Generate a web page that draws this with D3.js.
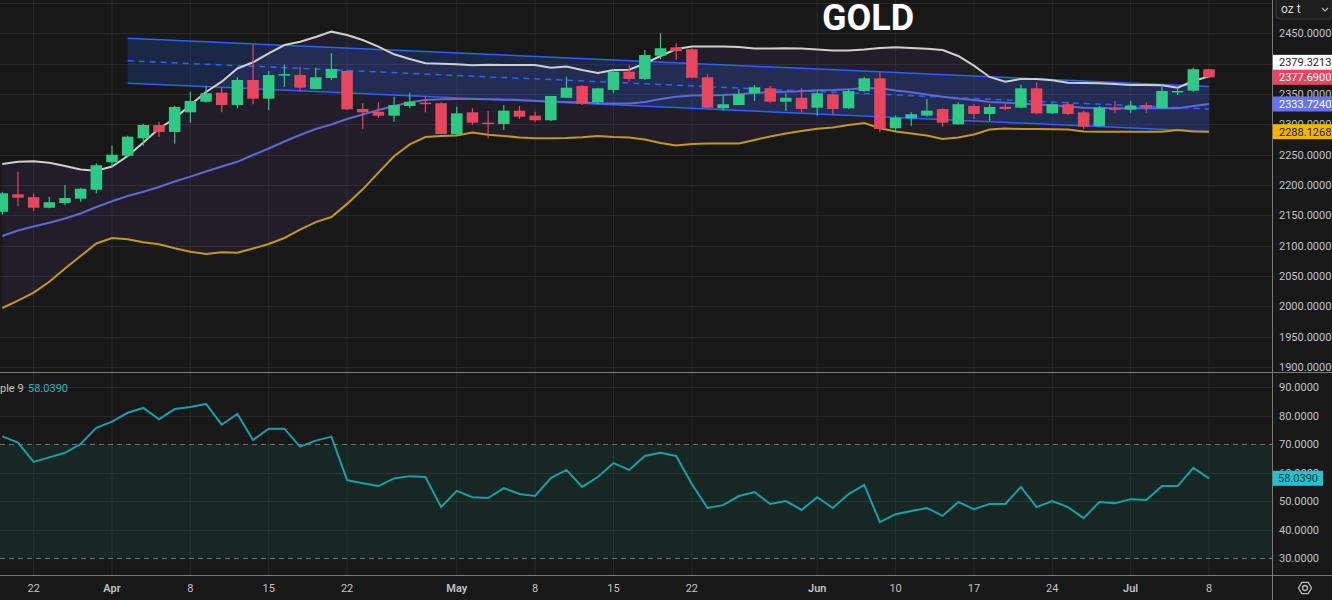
<!DOCTYPE html>
<html><head><meta charset="utf-8">
<script src="https://cdn.jsdelivr.net/npm/d3@7"></script>
<style>
html,body{margin:0;padding:0;background:#181818;overflow:hidden}
svg{display:block}
text{font-family:Roboto,"Liberation Sans",sans-serif}
</style></head><body>
<svg id="c" width="1332" height="600"></svg>
<script>
// ---------- DATA ----------
const dates = [
 "2024-03-20","2024-03-21","2024-03-22","2024-03-25","2024-03-26","2024-03-27","2024-03-28",
 "2024-04-01","2024-04-02","2024-04-03","2024-04-04","2024-04-05","2024-04-08","2024-04-09","2024-04-10","2024-04-11","2024-04-12",
 "2024-04-15","2024-04-16","2024-04-17","2024-04-18","2024-04-19","2024-04-22","2024-04-23","2024-04-24","2024-04-25","2024-04-26",
 "2024-04-29","2024-04-30","2024-05-01","2024-05-02","2024-05-03","2024-05-06","2024-05-07","2024-05-08","2024-05-09","2024-05-10",
 "2024-05-13","2024-05-14","2024-05-15","2024-05-16","2024-05-17","2024-05-20","2024-05-21","2024-05-22","2024-05-23","2024-05-24",
 "2024-05-27","2024-05-28","2024-05-29","2024-05-30","2024-05-31","2024-06-03","2024-06-04","2024-06-05","2024-06-06","2024-06-07",
 "2024-06-10","2024-06-11","2024-06-12","2024-06-13","2024-06-14","2024-06-17","2024-06-18","2024-06-19","2024-06-20","2024-06-21",
 "2024-06-24","2024-06-25","2024-06-26","2024-06-27","2024-06-28","2024-07-01","2024-07-02","2024-07-03","2024-07-04","2024-07-05",
 "2024-07-08"];
const open = [
 2156,2184.8,2180,2162.7,2170.5,2177.6,2192.4,
 2237.6,2248.5,2277.2,2299,2287.6,2320,2337.5,2352.4,2332,2373.3,
 2342.5,2380.5,2381.6,2358.5,2376.6,2388.2,2325.5,2321,2314.5,2330.4,
 2336,2335,2283.8,2320,2303,2300.8,2322.7,2314.5,2306.9,2344,
 2363.4,2336.5,2356.8,2387,2375,2413.4,2427,2424,2377.8,2326.7,
 2332,2351.4,2359.6,2337.5,2344,2327.6,2349.7,2326.7,2355.2,2376,
 2293.7,2310.2,2314.5,2325.5,2300.3,2330.4,2317.3,2329.3,2327.6,2359.6,
 2318.4,2333.3,2320,2297.5,2326.7,2324.4,2332,2326.7,2353.6,2355.7,
 2391];
const high = [
 2189,2222,2186.5,2180.4,2200,2195.7,2236,
 2265,2281.5,2301.3,2304.6,2331,2354,2364,2360.6,2377.8,2432.2,
 2388,2399,2395,2393.6,2417.8,2390,2335,2336.5,2345.8,2352.4,
 2347,2336.5,2329.3,2326.7,2322,2332,2330.4,2321,2347,2378.8,
 2365,2360.6,2391,2398,2422.8,2450.3,2433.8,2425.6,2383,2347.4,
 2358.5,2365,2363.4,2351.4,2359.6,2356.8,2351.4,2358.5,2378.8,2388,
 2314.5,2320,2342,2326.7,2336.5,2333.7,2333.7,2333.7,2366,2369.5,
 2335,2337.5,2322.7,2330.4,2338.7,2338.7,2336.5,2365,2360.6,2393.6,
 2391.5];
const low = [
 2151,2165.5,2157.3,2162,2167,2172.6,2186.5,
 2230,2246.8,2265,2279.8,2268.3,2303,2335.9,2320,2326.7,2333.3,
 2323.8,2362,2354,2358,2373.3,2324,2292,2311,2304.6,2326.7,
 2320,2284,2282.6,2299,2277.2,2291,2309,2303.6,2305.7,2343.7,
 2332,2333.3,2351.4,2370.5,2373.3,2407.5,2406.3,2376,2326.7,2322.7,
 2332,2338.7,2335,2322.7,2320,2314.5,2315.6,2325.5,2354,2287,
 2288,2298,2312.8,2296.3,2299,2309,2305.7,2324,2326.7,2316.8,
 2317.3,2315.6,2292.5,2296.3,2318.4,2318.4,2318.4,2326.7,2348.6,2354,
 2376.6];
const close = [
 2186.5,2179.2,2162.7,2171.7,2178.7,2194,2232.7,
 2250.1,2279.8,2299.1,2287.6,2328.8,2338.7,2351.4,2332.1,2373.3,2342.5,
 2381.6,2383,2360.6,2377.8,2391.5,2325,2320,2314.5,2332,2337.5,
 2333.5,2284.3,2318.4,2302.9,2300.8,2322.7,2312.8,2306.9,2347,2360.6,
 2334.2,2359.6,2387,2375,2414.5,2425.6,2421,2377,2327.6,2333.3,
 2350,2361.3,2337.5,2344,2325.5,2351.4,2325.5,2355,2376.1,2292.5,
 2311,2316.8,2322.7,2302.9,2333.3,2317.3,2328.8,2325.5,2359.6,2318.4,
 2333.3,2317.3,2296.3,2327.6,2324,2331,2327.6,2355.2,2355.2,2391,
 2377.69];
// Bollinger Bands
const bbUpper = [
 2234.8,2238.6,2239.3,2236.9,2231.5,2225.7,2223.8,
 2230.7,2248,2270.3,2293.3,2309.8,2332.1,2353.5,2370.5,2392.3,2402.5,
 2417,2431,2436.5,2444.2,2453,2447.5,2439.3,2428.2,2415.7,2408,
 2400.9,2400.2,2399.2,2397.6,2398.6,2398.1,2398.1,2398.1,2393.6,2395.6,
 2389.8,2384.9,2389.8,2390.3,2400.5,2412.9,2424.4,2428.6,2428.6,2428.6,
 2427.7,2425.3,2425.3,2425.6,2425.3,2423.6,2422,2422,2423.6,2426.1,
 2427.4,2426.1,2424.9,2422.8,2412.9,2396.9,2378.3,2370.5,2375,2375,
 2372.8,2368.9,2368.4,2367.9,2366.7,2365.1,2365.1,2364.6,2360.6,2371.7,
 2379.3213];
const bbBasis = [
 2116.1,2125.1,2131.7,2138,2144.9,2153.2,2163.9,
 2173.3,2182,2189.1,2196.9,2205.9,2213.9,2222.4,2230.7,2238.4,2249.6,
 2260.4,2271.9,2282.6,2292.5,2299.9,2309,2316.4,2323.9,2330.4,2336.5,
 2340.3,2341.5,2342,2342,2341.7,2341.2,2340.3,2339.2,2337.9,2337,
 2336.2,2334.9,2334.6,2334.6,2337,2342,2345.6,2347.8,2348.1,2348.6,
 2349.7,2351.9,2353.2,2353.9,2354.7,2356.3,2356.8,2358,2359.8,2359.6,
 2356,2353,2349.4,2345.6,2342.8,2340.3,2337,2335.7,2334.6,2332.9,
 2331.6,2329.6,2327.5,2327.2,2326.7,2326.7,2326.7,2326.7,2326.7,2330.4,
 2333.724];
const bbLower = [
 1997.3,2009.4,2022.6,2040.7,2062.5,2083.1,2103.7,
 2112.8,2110.6,2105.7,2102.6,2095.8,2090.2,2086.4,2089.4,2088.6,2095.5,
 2102.9,2112.8,2126.5,2139,2147.4,2169,2193,2220.5,2247.5,2267,
 2279.3,2281,2281.8,2286.7,2283,2281,2278.5,2277.2,2277.2,2277.7,
 2278.8,2281,2279.3,2278.5,2275.2,2269.4,2265.3,2267.8,2268.6,2268.6,
 2268.6,2274.4,2280.2,2285.1,2289.2,2292.9,2295,2299.1,2302.4,2293.7,
 2288.4,2285.1,2281.8,2276,2278.5,2283.5,2291.7,2293.3,2292.5,2292.5,
 2292.2,2291.7,2288.4,2288.1,2288.1,2288.1,2288.1,2288.1,2290.9,2288.4,
 2288.1268];
// RSI
const rsi = [
 72.8,70.6,63.8,65.4,67.0,70.1,75.8,
 78.0,81.1,82.8,78.8,82.4,83.1,84.2,76.9,80.7,71.5,
 75.5,75.5,69.2,71.3,72.7,57.4,56.3,55.3,58.0,58.8,
 58.5,47.9,53.6,51.4,51.1,54.6,52.5,51.8,58.1,61.0,
 55.0,58.5,63.4,61.0,65.9,67.0,65.9,56.0,47.6,48.6,
 51.8,53.2,49.0,50.0,46.9,51.4,47.6,52.5,55.7,42.6,
 45.4,46.5,47.6,44.8,49.7,47.2,49.0,49.0,55.0,47.9,
 50.0,47.9,44.0,49.7,49.3,50.7,50.4,55.3,55.3,61.7,
 58.039];
// Linear regression channel
const regDates = ["2024-04-02","2024-07-08"];
const regMid = [2405.1, 2325.5];
const regDev = 37;
// Axis ticks
const timeTicks = ["2024-03-22","2024-04-01","2024-04-08","2024-04-15","2024-04-22","2024-05-01","2024-05-08","2024-05-15","2024-05-22","2024-06-03","2024-06-10","2024-06-17","2024-06-24","2024-07-01","2024-07-08"];
const timeLabels = ["22","Apr","8","15","22","May","8","15","22","Jun","10","17","24","Jul","8"];
const priceTicks = [1900,1950,2000,2050,2100,2150,2200,2250,2300,2350,2400,2450];
const priceGrid = [1900,1950,2000,2050,2100,2150,2200,2250,2300,2350,2400,2450,2500];
const rsiTicks = [30,40,50,60,70,80,90];
const rsiBands = [70,30];

// ---------- LAYOUT ----------
const W=1332, H=600, AX=1272, MAIN_B=372, RSI_T=373, RSI_B=575;
const C = {bg:"#181818", grid:"#292929", sep:"#7a7a7a", text:"#c3c3c3",
  up:"#2ec985", down:"#e8465f", bbU:"#cfcfcf", bbM:"#5d68d6", bbL:"#c49a12",
  reg:"#2962ff", rsi:"#199fa8"};
const svg = d3.select("#c");
svg.append("rect").attr("width",W).attr("height",H).attr("fill",C.bg);

const x = d3.scalePoint().domain(dates).range([2.3, 1209]);
const yP = d3.scaleLinear().domain([1891.8, 2505.2]).range([MAIN_B, 0]);
const yR = d3.scaleLinear().domain([24, 95.1]).range([RSI_B, RSI_T]);

const defs = svg.append("defs");
defs.append("clipPath").attr("id","cm").append("rect").attr("x",0).attr("y",0).attr("width",AX).attr("height",MAIN_B);
defs.append("clipPath").attr("id","cr").append("rect").attr("x",0).attr("y",RSI_T).attr("width",AX).attr("height",RSI_B-RSI_T);

// grid
const grid = svg.append("g");
grid.selectAll(".vg").data(timeTicks).join("line")
  .attr("x1",d=>x(d)).attr("x2",d=>x(d)).attr("y1",0).attr("y2",RSI_B)
  .attr("stroke",C.grid).attr("stroke-width",1);
grid.selectAll(".hg").data(priceGrid).join("line")
  .attr("x1",0).attr("x2",AX).attr("y1",d=>Math.round(yP(d))+0.5).attr("y2",d=>Math.round(yP(d))+0.5)
  .attr("stroke",C.grid);
grid.selectAll(".rg").data(rsiTicks.filter(v=>!rsiBands.includes(v))).join("line")
  .attr("x1",0).attr("x2",AX).attr("y1",d=>Math.round(yR(d))+0.5).attr("y2",d=>Math.round(yR(d))+0.5)
  .attr("stroke",C.grid);

// ---------- MAIN PANE ----------
const main = svg.append("g").attr("clip-path","url(#cm)");
const idx = d3.range(dates.length);
// BB fill
main.append("path").datum(idx)
  .attr("d", d3.area().x(i=>x(dates[i])).y0(i=>yP(bbLower[i])).y1(i=>yP(bbUpper[i])))
  .attr("fill","rgba(126,87,194,0.1)");
// regression channel
const rx0 = x(regDates[0]), rx1 = x(regDates[1]);
const regPts = (off)=>[[rx0, yP(regMid[0]+off)],[rx1, yP(regMid[1]+off)]];
main.append("path")
  .attr("d", d3.line()([...regPts(regDev), ...regPts(-regDev).reverse()]) + "Z")
  .attr("fill","rgba(41,98,255,0.2)");
main.append("path").attr("d", d3.line()(regPts(regDev))).attr("stroke",C.reg).attr("stroke-width",1.5).attr("fill","none");
main.append("path").attr("d", d3.line()(regPts(-regDev))).attr("stroke",C.reg).attr("stroke-width",1.5).attr("fill","none");
main.append("path").attr("d", d3.line()(regPts(0))).attr("stroke",C.reg).attr("stroke-width",1.5)
  .attr("stroke-dasharray","6,5").attr("fill","none");
// BB lines
const bbLine = arr => d3.line().x(i=>x(dates[i])).y(i=>yP(arr[i]));
main.append("path").datum(idx).attr("d",bbLine(bbBasis)).attr("stroke",C.bbM).attr("stroke-width",2).attr("fill","none");
main.append("path").datum(idx).attr("d",bbLine(bbUpper)).attr("stroke",C.bbU).attr("stroke-width",2).attr("fill","none");
main.append("path").datum(idx).attr("d",bbLine(bbLower)).attr("stroke",C.bbL).attr("stroke-width",2).attr("fill","none");
// candles
const bw = 11.5;
const cg = main.append("g");
idx.forEach(i=>{
  const col = close[i] >= open[i] ? C.up : C.down;
  const cx = x(dates[i]);
  cg.append("line").attr("x1",cx).attr("x2",cx).attr("y1",yP(high[i])).attr("y2",yP(low[i]))
    .attr("stroke",col).attr("stroke-width",1.2);
  const yt = yP(Math.max(open[i],close[i])), yb = yP(Math.min(open[i],close[i]));
  cg.append("rect").attr("x",cx-bw/2).attr("y",yt).attr("width",bw).attr("height",Math.max(1.5,yb-yt)).attr("fill",col);
});

// title
svg.append("text").attr("x",868).attr("y",30).attr("text-anchor","middle")
  .attr("font-size",36).attr("font-weight",700).attr("fill","#ffffff").text("GOLD");

// ---------- RSI PANE ----------
const rp = svg.append("g").attr("clip-path","url(#cr)");
rp.append("rect").attr("x",0).attr("width",AX).attr("y",yR(rsiBands[0])).attr("height",yR(rsiBands[1])-yR(rsiBands[0]))
  .attr("fill","rgba(20,160,130,0.11)");
rp.selectAll(".band").data(rsiBands).join("line")
  .attr("x1",0).attr("x2",AX).attr("y1",d=>Math.round(yR(d))+0.5).attr("y2",d=>Math.round(yR(d))+0.5)
  .attr("stroke","#6f6f6f").attr("stroke-dasharray","5,4");
rp.append("path").datum(idx).attr("d",d3.line().x(i=>x(dates[i])).y(i=>yR(rsi[i])))
  .attr("stroke",C.rsi).attr("stroke-width",2).attr("fill","none");
svg.append("text").attr("x",0).attr("y",392).attr("font-size",11).attr("fill",C.text).text("ple 9");
svg.append("text").attr("x",28).attr("y",392).attr("font-size",11).attr("fill","#22b8c4").text(d3.format(".4f")(rsi[rsi.length-1]));

// ---------- SEPARATORS ----------
svg.append("line").attr("x1",0).attr("x2",W).attr("y1",MAIN_B+0.5).attr("y2",MAIN_B+0.5).attr("stroke",C.sep);
svg.append("line").attr("x1",0).attr("x2",W).attr("y1",RSI_B+0.5).attr("y2",RSI_B+0.5).attr("stroke",C.sep);
svg.append("line").attr("x1",AX+0.5).attr("x2",AX+0.5).attr("y1",0).attr("y2",H).attr("stroke",C.sep);

// ---------- AXES ----------
const pAxis = svg.append("g");
pAxis.selectAll("text").data(priceTicks).join("text")
  .attr("x",AX+7).attr("y",d=>yP(d)+4).attr("font-size",11).attr("fill",C.text)
  .text(d=>d3.format(".4f")(d));
const rAxis = svg.append("g");
rAxis.selectAll("text").data(rsiTicks).join("text")
  .attr("x",AX+7).attr("y",d=>yR(d)+4).attr("font-size",11).attr("fill",C.text)
  .text(d=>d3.format(".4f")(d));
const tAxis = svg.append("g");
tAxis.selectAll("text").data(timeTicks).join("text")
  .attr("x",d=>x(d)).attr("y",592).attr("text-anchor","middle").attr("font-size",11)
  .attr("font-weight",(d,i)=>/[A-Za-z]/.test(timeLabels[i])?600:400)
  .attr("fill",C.text).text((d,i)=>timeLabels[i]);

// ---------- PRICE LABELS ----------
const LH = 15;
const labels = [
  {v:close[close.length-1], bg:C.down, fg:"#ffffff", fixed:true},
  {v:bbUpper[bbUpper.length-1], bg:"#ffffff", fg:"#222222"},
  {v:bbBasis[bbBasis.length-1], bg:"#6673f2", fg:"#ffffff"},
  {v:bbLower[bbLower.length-1], bg:"#f4b400", fg:"#222222"}
];
const placed = [];
labels.forEach(l=>{
  let y = yP(l.v);
  if(!l.fixed){
    placed.forEach(p=>{
      if(Math.abs(p.y - y) < LH){ y = (l.v > p.v) ? p.y - LH : p.y + LH; }
    });
  }
  l.y = y; placed.push(l);
});
const lg = svg.append("g");
labels.forEach(l=>{
  lg.append("rect").attr("x",AX+1).attr("y",l.y-LH/2).attr("width",W-AX-1).attr("height",LH).attr("fill",l.bg);
  lg.append("text").attr("x",AX+7).attr("y",l.y+4).attr("font-size",11).attr("fill",l.fg).text(d3.format(".4f")(l.v));
});
// RSI label
const rv = rsi[rsi.length-1];
lg.append("rect").attr("x",AX+1).attr("y",yR(rv)-LH/2).attr("width",50).attr("height",LH).attr("fill","#22c3d1");
lg.append("text").attr("x",AX+6).attr("y",yR(rv)+4).attr("font-size",11).attr("fill","#10343a").text(d3.format(".4f")(rv));

// unit box
svg.append("rect").attr("x",1276).attr("y",-4).attr("width",56).attr("height",23).attr("rx",4)
  .attr("fill","#1e1e1e").attr("stroke","#3a3a3a");
svg.append("text").attr("x",1281).attr("y",13).attr("font-size",12).attr("fill","#d8d8d8").text("oz t");
svg.append("path").attr("d","M1322,8 L1325,11 L1328,8").attr("stroke","#bbbbbb").attr("fill","none").attr("stroke-width",1.2);

// settings icon
const gx=1305, gy=588;
const hex = d3.range(6).map(k=>[gx+6.5*Math.cos(Math.PI/3*k), gy+6.5*Math.sin(Math.PI/3*k)]);
svg.append("path").attr("d",d3.line()(hex)+"Z").attr("fill","none").attr("stroke","#bdbdbd").attr("stroke-width",1.3);
svg.append("circle").attr("cx",gx).attr("cy",gy).attr("r",2.5).attr("fill","none").attr("stroke","#bdbdbd").attr("stroke-width",1.3);
</script>
</body></html>
